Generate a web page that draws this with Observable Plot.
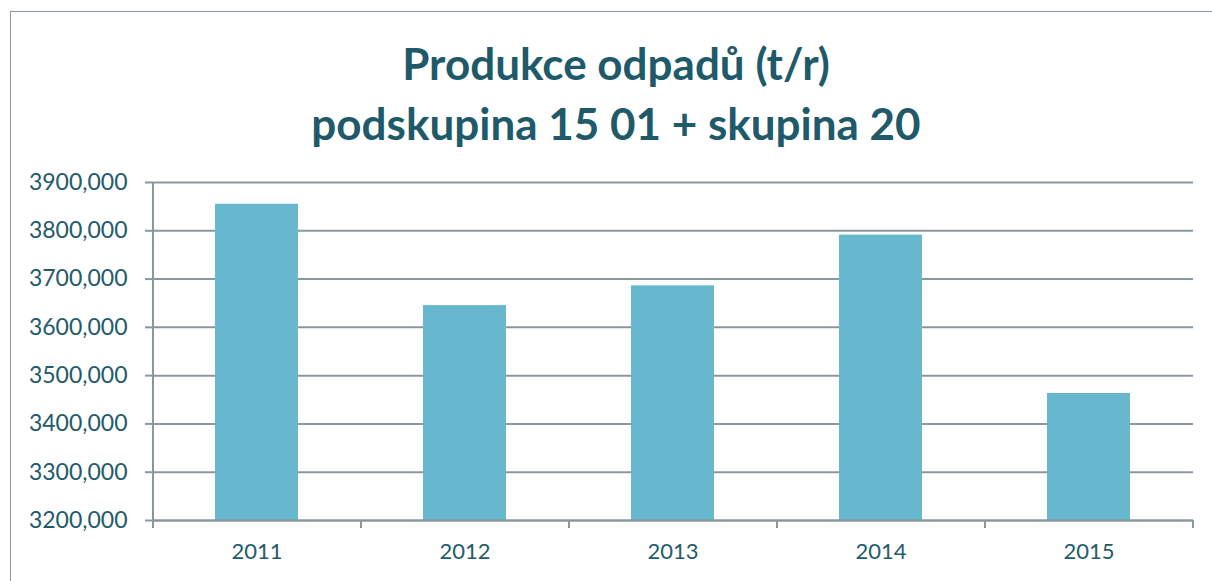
<!DOCTYPE html>
<html><head><meta charset="utf-8">
<script src="https://cdn.jsdelivr.net/npm/d3@7"></script>
<script src="https://cdn.jsdelivr.net/npm/@observablehq/plot@0.6"></script>
<style>
body{margin:0;background:#fff;width:1212px;height:581px;overflow:hidden;position:relative;font-family:Lato,sans-serif}
#frame{position:absolute;left:10px;top:11px;width:1300px;height:700px;border:1px solid #8b979e;box-sizing:border-box}
#title{position:absolute;left:0;top:33px;width:1232px;text-align:center;color:#1f5a6a;font-weight:bold;font-size:44px;line-height:60px}
#chart{position:absolute;left:0;top:150px}
</style></head><body>
<div id="frame"></div>
<div id="title">Produkce odpadů (t/r)<br>podskupina 15 01 + skupina 20</div>
<div id="chart"></div>
<script>
const years = ["2011", "2012", "2013", "2014", "2015"];
const values = [3855, 3645, 3686, 3791, 3463];
const yTicks = [3200, 3300, 3400, 3500, 3600, 3700, 3800, 3900];

const data = years.map((year, i) => ({year, value: values[i]}));
const grid = "#8b979e";
const fmt = d => d.toFixed(3).replace(".", ",");

const plot = Plot.plot({
  width: 1212, height: 431,
  marginTop: 32, marginBottom: 61, marginLeft: 153, marginRight: 19,
  style: {fontFamily: "Lato, sans-serif", fontSize: "23px", color: "#235a6a", background: "transparent"},
  x: {domain: years, paddingInner: 0.6, paddingOuter: 0.3, label: null},
  y: {domain: [3200, 3900], label: null},
  marks: [
    Plot.gridY(yTicks, {stroke: grid, strokeOpacity: 1, strokeWidth: 2}),
    Plot.barY(data, {x: "year", y1: 3200, y2: "value", fill: "#67b7cf"}),
    Plot.ruleY([3200], {stroke: grid, strokeWidth: 2}),
    Plot.axisY(yTicks, {tickSize: 8, stroke: grid, strokeWidth: 2, strokeOpacity: 1, tickPadding: 18, tickFormat: fmt, fill: "#235a6a"}),
    Plot.ruleX(years.slice(1), {x: d => d, dx: -104, y1: 3200, y2: 3183.4, stroke: grid, strokeWidth: 2}),
    Plot.ruleX(years.slice(0, 1), {x: d => d, dx: -104, y1: 3183.4, y2: 3900, stroke: grid, strokeWidth: 2}),
    Plot.ruleX(years.slice(4), {x: d => d, dx: 104, y1: 3200, y2: 3183.4, stroke: grid, strokeWidth: 2}),
    Plot.axisX({tickSize: 0, tickPadding: 23, fontSize: 22, fill: "#235a6a"})
  ]
});
document.getElementById("chart").append(plot);
</script>
</body></html>
